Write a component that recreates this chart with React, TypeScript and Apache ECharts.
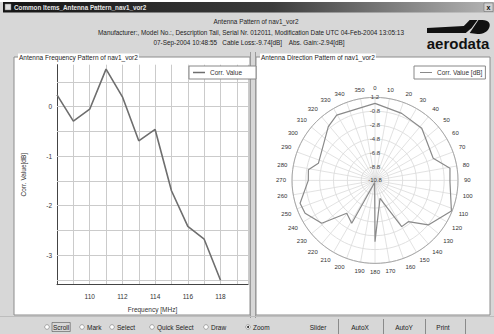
import React, { useEffect, useRef } from 'react';
import * as echarts from 'echarts';

// ---- data ----
const freqMHz = [108, 109, 110, 111, 112, 113, 114, 115, 116, 117, 118];
const freqValues = [0.24, -0.29, -0.05, 0.76, 0.2, -0.69, -0.46, -1.7, -2.42, -2.68, -3.51];
const freqGridY = [-3.5, -3, -2.5, -2, -1.5, -1, -0.5, 0, 0.5];

const dirAngles = [0, 21.7, 41.9, 69.2, 80.8, 91, 111.8, 129.9, 141.1, 150, 164.4, 180, 190, 208.5, 220.7, 231.2, 244.8, 253, 270, 279, 286.8, 319, 329.6, 360];
const dirValues = [0.34, -0.37, -0.68, -1.8, 0.18, 0.04, 1.1, -0.76, -3.13, -3.08, -8.1, -1.94, -10.5, -3.75, -4.53, -0.92, 0.37, 0.53, -1.16, -1.05, -2.25, -0.51, 0.15, 0.34];

const windowTitle = 'Common Items_Antenna Pattern_nav1_vor2';
const headerLines = [
  'Antenna Pattern of nav1_vor2',
  'Manufacturer:, Model No.:, Description Tail, Serial Nr. 012011, Modification Date UTC 04-Feb-2004 13:05:13',
  '07-Sep-2004 10:48:55   Cable Loss:-9.74[dB]    Abs. Gain:-2.94[dB]',
];
const leftTitle = 'Antenna Frequency Pattern of nav1_vor2';
const rightTitle = 'Antenna Direction Pattern of nav1_vor2';
const leftSeries = 'Corr. Value';
const rightSeries = 'Corr. Value [dB]';
const radioLabels = ['Scroll', 'Mark', 'Select', 'Quick Select', 'Draw', 'Zoom'];
const buttonLabels = ['Slider', 'AutoX', 'AutoY', 'Print'];

const FONT = 'Liberation Sans, Arial, sans-serif';

function txt(x: number, y: number, text: string, size: number, opts: any = {}) {
  return {
    type: 'text',
    x,
    y,
    z: opts.z ?? 5,
    silent: true,
    style: {
      text,
      fontSize: size,
      fontFamily: FONT,
      fontWeight: opts.bold ? 'bold' : 'normal',
      fill: opts.fill ?? '#222',
      align: opts.align ?? 'left',
      verticalAlign: 'middle',
      textAlign: opts.align ?? 'left',
      textVerticalAlign: 'middle',
      backgroundColor: opts.bg,
      padding: opts.pad,
      borderColor: opts.borderColor,
      borderWidth: opts.borderWidth,
      borderType: opts.borderType,
    },
  };
}

function rect(x: number, y: number, w: number, h: number, style: any, z = -5) {
  return { type: 'rect', shape: { x, y, width: w, height: h }, style, z, silent: true };
}

function line(x1: number, y1: number, x2: number, y2: number, stroke: string, z = 1, w = 1) {
  return { type: 'line', shape: { x1, y1, x2, y2 }, style: { stroke, lineWidth: w }, z, silent: true };
}

echarts.graphic.registerShape(
  'aeroSwoosh',
  echarts.graphic.extendPath(
    'M0,8 L38,6 L44,0 L52,0 L46,8 L40,13 L0,13 Z M44,13 L53,0 L57,0 C64,0 66,4 64,8 C62,12 58,14 52,14 Z',
    {}
  )
);

export default function App() {
  const ref = useRef<HTMLDivElement>(null);

  useEffect(() => {
    if (!ref.current) return;
    const chart = echarts.init(ref.current, undefined, { renderer: 'svg' });

    const radioX = [47, 82, 112, 152, 206, 248];
    const buttonX = [318, 360, 404, 443];
    const buttonSep = [338, 383, 425, 465];

    const graphics: any[] = [
      rect(0, 0, 494, 334, { fill: '#d7d7d7' }, -20),
      rect(0, 0, 494, 2, { fill: '#ffffff' }, -19),
      rect(3, 2, 491, 10.5, {
        fill: new echarts.graphic.LinearGradient(0, 0, 1, 0, [
          { offset: 0, color: '#151515' },
          { offset: 0.55, color: '#3c3c3c' },
          { offset: 1, color: '#b5b5b5' },
        ]),
      }, -18),
      rect(5, 4, 6, 6, { fill: '#dddddd', stroke: '#777', lineWidth: 0.5 }, 2),
      txt(14, 7.3, windowTitle, 6.3, { fill: '#e8e8e8', bold: true }),
      rect(484, 3, 9, 8.5, { fill: '#d0d0d0', stroke: '#666', lineWidth: 0.5 }, 2),
      txt(488.5, 7.2, 'x', 7, { align: 'center', fill: '#111', bold: true }),
      // header text
      txt(256, 21, headerLines[0], 6.4, { align: 'center' }),
      txt(251, 32, headerLines[1], 6.4, { align: 'center' }),
      txt(249, 42, headerLines[2], 6.4, { align: 'center' }),
      // logo
      {
        type: 'aeroSwoosh',
        x: 427,
        y: 20,
        scaleX: 0.97,
        scaleY: 1.0,
        style: { fill: '#111' },
        z: 3,
        silent: true,
      },
      txt(458, 43, 'aerodata', 15, { align: 'center', bold: true, fill: '#111' }),
      // group boxes
      rect(14, 57, 236, 258, { fill: '#ffffff', stroke: '#8c8c8c', lineWidth: 1 }, -10),
      rect(256, 57, 234, 258, { fill: '#ffffff', stroke: '#8c8c8c', lineWidth: 1 }, -10),
      line(250.5, 52, 250.5, 318, '#9a9a9a', -9),
      line(255.5, 52, 255.5, 318, '#9a9a9a', -9),
      txt(18, 57, leftTitle, 6.5, { bg: '#ffffff', pad: [0, 1] }),
      txt(260, 57, rightTitle, 6.5, { bg: '#ffffff', pad: [0, 1] }),
      // toolbar
      line(0, 316.5, 494, 316.5, '#bdbdbd', -9),
    ];

    radioLabels.forEach((lab, i) => {
      graphics.push({
        type: 'circle',
        shape: { cx: radioX[i], cy: 327, r: 2.3 },
        style: { fill: '#fff', stroke: '#777', lineWidth: 0.6 },
        z: 3,
        silent: true,
      });
      if (lab === 'Zoom') {
        graphics.push({
          type: 'circle',
          shape: { cx: radioX[i], cy: 327, r: 1 },
          style: { fill: '#222' },
          z: 4,
          silent: true,
        });
      }
      graphics.push(
        txt(radioX[i] + 5, 327, lab, 6.5, lab === 'Scroll'
          ? { borderColor: '#555', borderWidth: 0.6, borderType: 'dotted', pad: [1, 1] }
          : {})
      );
    });
    buttonLabels.forEach((lab, i) => {
      graphics.push(txt(buttonX[i], 327, lab, 6.5, { align: 'center' }));
      graphics.push(line(buttonSep[i] + 0.5, 319, buttonSep[i] + 0.5, 334, '#8a8a8a', 3));
    });

    const option: any = {
      animation: false,
      textStyle: { fontFamily: FONT },
      graphic: { elements: graphics },
      legend: [
        {
          data: [leftSeries],
          left: 189,
          top: 66,
          icon: 'rect',
          itemWidth: 12,
          itemHeight: 1.5,
          itemGap: 4,
          padding: [3, 14, 3, 4],
          borderColor: '#888',
          borderWidth: 1,
          backgroundColor: '#fff',
          textStyle: { fontSize: 6.5, color: '#333', fontFamily: FONT },
          selectedMode: false,
        },
        {
          data: [rightSeries],
          left: 414,
          top: 66,
          icon: 'rect',
          itemWidth: 12,
          itemHeight: 1,
          padding: [3, 3, 3, 6],
          borderColor: '#888',
          borderWidth: 1,
          backgroundColor: '#fff',
          textStyle: { fontSize: 6.5, color: '#333', fontFamily: FONT },
          selectedMode: false,
        },
      ],
      grid: { left: 57, top: 64.7, width: 191, height: 220, containLabel: false },
      xAxis: {
        type: 'value',
        min: 108,
        max: 119.68,
        interval: 1,
        axisLine: { show: true, onZero: false, lineStyle: { color: '#444', width: 1 } },
        axisTick: { show: false },
        axisLabel: {
          fontSize: 6.5,
          color: '#333',
          margin: 8,
          formatter: (v: number) => {
            const r = Math.round(v);
            return Math.abs(v - r) < 1e-6 && r % 2 === 0 && r > 108 && r < 119 ? String(r) : '';
          },
        },
        splitLine: { show: true, lineStyle: { color: '#cbcbcb', width: 1 } },
        name: 'Frequency [MHz]',
        nameLocation: 'middle',
        nameGap: 21,
        nameTextStyle: { fontSize: 6.5, color: '#333' },
      },
      yAxis: {
        type: 'value',
        min: -3.6,
        max: 0.85,
        interval: 0.1,
        axisLine: { show: true, onZero: false, lineStyle: { color: '#444', width: 1 } },
        axisTick: { show: false },
        splitLine: { show: false },
        axisLabel: {
          fontSize: 6.5,
          color: '#333',
          margin: 5,
          formatter: (v: number) => {
            const r = Math.round(v);
            if (Math.abs(v - r) > 1e-6) return '';
            return r === 0 ? '0' : String(r);
          },
        },
        name: 'Corr. Value[dB]',
        nameLocation: 'middle',
        nameGap: 30,
        nameRotate: 90,
        nameTextStyle: { fontSize: 6.5, color: '#333' },
      },
      polar: { center: [375, 180.4], radius: 83 },
      angleAxis: {
        type: 'value',
        min: 0,
        max: 360,
        interval: 10,
        startAngle: 90,
        clockwise: true,
        axisLine: { show: true, lineStyle: { color: '#a8a8a8', width: 1 } },
        axisTick: { show: false },
        axisLabel: {
          fontSize: 6,
          color: '#333',
          margin: 6,
          formatter: (v: number) => (Math.round(v) >= 360 ? '' : String(Math.round(v))),
        },
        splitLine: { show: true, lineStyle: { color: '#dadada', width: 0.8 } },
      },
      radiusAxis: {
        type: 'value',
        min: -10.8,
        max: 1.2,
        interval: 2,
        axisLine: { show: false },
        axisTick: { show: false },
        axisLabel: {
          fontSize: 6,
          color: '#444',
          margin: 0,
          align: 'center',
          formatter: (v: number) => v.toFixed(1),
        },
        splitLine: { show: true, lineStyle: { color: '#d8d8d8', width: 0.8 } },
      },
      series: [
        {
          name: leftSeries,
          type: 'line',
          xAxisIndex: 0,
          yAxisIndex: 0,
          data: freqMHz.map((f, i) => [f, freqValues[i]]),
          showSymbol: false,
          lineStyle: { color: '#6e6e6e', width: 1.6 },
          itemStyle: { color: '#6e6e6e' },
          z: 5,
          markLine: {
            silent: true,
            symbol: ['none', 'none'],
            label: { show: false },
            lineStyle: { color: '#cbcbcb', type: 'solid', width: 1 },
            data: freqGridY.map((y) => ({ yAxis: y })),
            z: 1,
          },
        },
        {
          name: rightSeries,
          type: 'line',
          coordinateSystem: 'polar',
          data: dirAngles.map((a, i) => [dirValues[i], a]),
          showSymbol: false,
          lineStyle: { color: '#8a8a8a', width: 1.2 },
          itemStyle: { color: '#8a8a8a' },
          z: 5,
        },
      ],
    };

    chart.setOption(option);
    return () => chart.dispose();
  }, []);

  return (
    <div
      ref={ref}
      style={{ position: 'fixed', left: 0, top: 0, width: 494, height: 334, background: '#fff' }}
    />
  );
}
